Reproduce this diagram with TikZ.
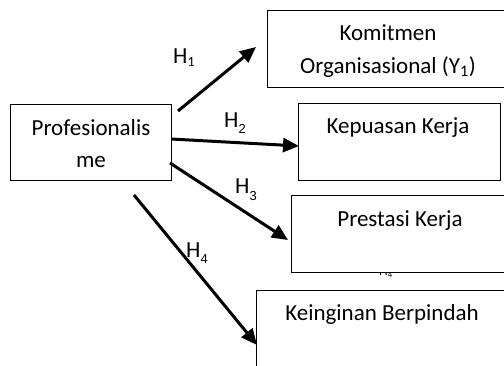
\documentclass[tikz,border=0pt]{standalone}
\usepackage{fontspec}
\setmainfont{Carlito}
\newfontfamily\subfont{Liberation Sans}
\usetikzlibrary{arrows.meta}
\begin{document}
\begin{tikzpicture}[x=1pt,y=-1pt,
  box/.style={draw, line width=1.3pt, fill=white, inner sep=0pt, anchor=north west},
  txt/.style={font=\fontsize{23}{32}\selectfont, inner sep=0pt, anchor=base},
  hl/.style={font=\fontsize{23}{23}\selectfont, inner sep=0pt, anchor=base west},
  arr/.style={line width=3pt, -{Triangle[length=16pt,width=14pt]}}]
\clip (0,0) rectangle (504,365);
% stray label fragment hidden behind box
\node[inner sep=0pt, anchor=base west, font=\subfont\fontsize{12}{12}\selectfont] (h4b) at (379,275) {H\raisebox{-2pt}{\fontsize{8}{8}\selectfont 4}};
% boxes
\node[box, minimum width=161pt, minimum height=76pt] (prof) at (10,104) {};
\node[box, minimum width=245pt, minimum height=77pt] (kom) at (267,10) {};
\node[box, minimum width=202pt, minimum height=77pt] (kep) at (298,103) {};
\node[box, minimum width=220pt, minimum height=77pt] (pre) at (291,195) {};
\node[box, minimum width=255pt, minimum height=90pt] (kei) at (256,290) {};
% texts
\node[txt] (t1) at (91,135) {Profesionalis};
\node[txt] (t2) at (91,167) {me};
\node[txt] (t3) at (388,40) {Komitmen};
\node[txt] (t4) at (388,73) {Organisasional (Y\textsubscript{1})};
\node[txt] (t5) at (398,133) {Kepuasan Kerja};
\node[txt] (t6) at (400,226) {Prestasi Kerja};
\node[txt] (t7) at (382,320) {Keinginan Berpindah};
% hypothesis labels
\node[hl] (h1) at (173,63) {H\raisebox{-3pt}{\fontsize{14}{14}\selectfont 1}};
\node[hl] (h2) at (224,127) {H\raisebox{-6pt}{\subfont\fontsize{13}{13}\selectfont 2}};
\node[hl] (h3) at (235,193) {H\raisebox{-7pt}{\subfont\fontsize{13}{13}\selectfont 3}};
\node[hl] (h4) at (186,257) {H\raisebox{-6pt}{\subfont\fontsize{13}{13}\selectfont 4}};
% arrow coordinates
\coordinate (s1) at (178,111); \coordinate (e1) at (256,47);
\coordinate (s2) at (171,139); \coordinate (e2) at (299,146);
\coordinate (s3) at (170,163); \coordinate (e3) at (288,240);
\coordinate (s4) at (134,195); \coordinate (e4) at (257,345);
\draw[arr] (s1) -- (e1);
\draw[arr] (s2) -- (e2);
\draw[arr] (s3) -- (e3);
\draw[arr] (s4) -- (e4);
\end{tikzpicture}
\end{document}
